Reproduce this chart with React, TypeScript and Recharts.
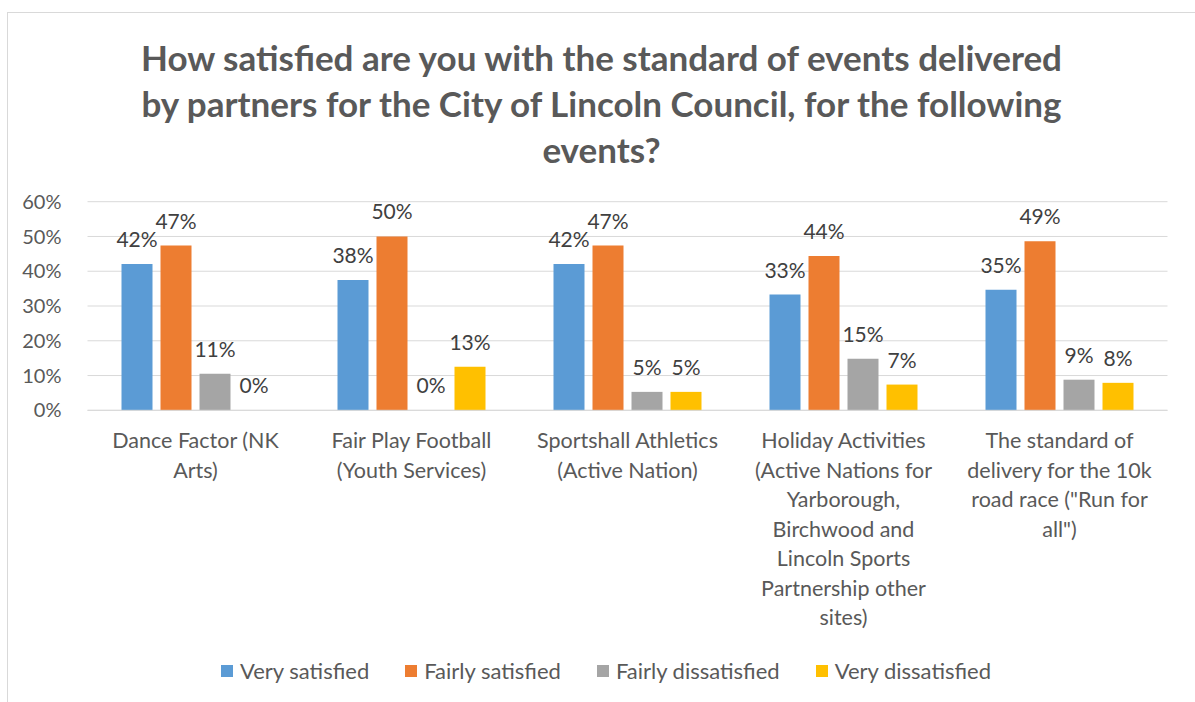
import { BarChart, Bar, XAxis, YAxis, CartesianGrid, LabelList } from 'recharts';

const categories = [
  'Dance Factor (NK Arts)',
  'Fair Play Football (Youth Services)',
  'Sportshall Athletics (Active Nation)',
  'Holiday Activities (Active Nations for Yarborough, Birchwood and Lincoln Sports Partnership other sites)',
  'The standard of delivery for the 10k road race ("Run for all")',
];

// wrapped lines of each category label, as in the original
const tickLines = [
  ['Dance Factor (NK', 'Arts)'],
  ['Fair Play Football', '(Youth Services)'],
  ['Sportshall Athletics', '(Active Nation)'],
  ['Holiday Activities', '(Active Nations for', 'Yarborough,', 'Birchwood and', 'Lincoln Sports', 'Partnership other', 'sites)'],
  ['The standard of', 'delivery for the 10k', 'road race ("Run for', 'all")'],
];

const verySatisfied = [0.421, 0.375, 0.421, 0.333, 0.347];
const fairlySatisfied = [0.474, 0.5, 0.474, 0.444, 0.486];
const fairlyDissatisfied = [0.105, 0, 0.053, 0.148, 0.088];
const veryDissatisfied = [0, 0.125, 0.053, 0.074, 0.079];

const yTicks = [0, 0.1, 0.2, 0.3, 0.4, 0.5, 0.6];

const titleLines = [
  'How satisfied are you with the standard of events delivered',
  'by partners for the City of Lincoln Council, for the following',
  'events?',
];

const series = [
  { key: 'verySatisfied', name: 'Very satisfied', color: '#5b9bd5' },
  { key: 'fairlySatisfied', name: 'Fairly satisfied', color: '#ed7d31' },
  { key: 'fairlyDissatisfied', name: 'Fairly dissatisfied', color: '#a5a5a5' },
  { key: 'veryDissatisfied', name: 'Very dissatisfied', color: '#ffc000' },
];

const data = categories.map((name, i) => ({
  name,
  verySatisfied: verySatisfied[i],
  fairlySatisfied: fairlySatisfied[i],
  fairlyDissatisfied: fairlyDissatisfied[i],
  veryDissatisfied: veryDissatisfied[i],
}));

const FONT = 'Lato, "Open Sans", sans-serif';

const pct = (v: any) => `${Math.round(Number(v) * 100)}%`;

const CategoryTick = ({ x, y, payload }: any) => {
  const i = categories.indexOf(payload.value);
  const lines = tickLines[i] || [payload.value];
  return (
    <text x={x} y={y} textAnchor="middle" fill="#595959" fontSize={21.5} fontFamily={FONT}>
      {lines.map((line, j) => (
        <tspan key={j} x={x} dy={j === 0 ? 30 : 29.5}>
          {line}
        </tspan>
      ))}
    </text>
  );
};

// value label above each bar, drawn for zero values too
const ValueLabel = (props: any) => {
  const { x, y, width, height, value } = props;
  if (value === undefined || value === null) return null;
  const top = Math.min(Number(y), Number(y) + Number(height || 0));
  return (
    <text
      x={Number(x) + Number(width) / 2}
      y={top - 17}
      textAnchor="middle"
      fill="#404040"
      fontSize={21}
      fontFamily={FONT}
    >
      {pct(value)}
    </text>
  );
};

export default function App() {
  return (
    <div
      style={{
        position: 'absolute',
        left: 0,
        top: 0,
        width: 1195,
        height: 702,
        overflow: 'hidden',
        background: '#fff',
        fontFamily: FONT,
      }}
    >
      {/* chart area border */}
      <div
        style={{
          position: 'absolute',
          left: 7,
          top: 12,
          width: 1200,
          height: 700,
          borderLeft: '1px solid #d9d9d9',
          borderTop: '1px solid #d9d9d9',
        }}
      />

      <div
        style={{
          position: 'absolute',
          left: 0,
          top: 34,
          width: 1203,
          textAlign: 'center',
          color: '#595959',
          fontWeight: 700,
          fontSize: 35,
          lineHeight: '46px',
        }}
      >
        {titleLines.map((l, i) => (
          <div key={i}>{l}</div>
        ))}
      </div>

      <div style={{ position: 'absolute', left: 0, top: 0 }}>
        <BarChart
          width={1195}
          height={702}
          data={data}
          margin={{ top: 201.7, right: 27.5, bottom: 41.7, left: 0 }}
          barCategoryGap={34}
          barGap={8}
        >
          <CartesianGrid vertical={false} stroke="#d9d9d9" strokeWidth={1} />
          <XAxis
            dataKey="name"
            height={250}
            interval={0}
            tickLine={false}
            axisLine={{ stroke: '#d9d9d9' }}
            tick={<CategoryTick />}
          />
          <YAxis
            width={87.5}
            domain={[0, 0.6]}
            ticks={yTicks}
            tickFormatter={pct}
            axisLine={false}
            tickLine={false}
            tickSize={0}
            tickMargin={26}
            tick={{ fill: '#595959', fontSize: 20, fontFamily: FONT }}
          />
          {series.map((s) => (
            <Bar
              key={s.key}
              dataKey={s.key}
              name={s.name}
              fill={s.color}
              minPointSize={0.01}
              isAnimationActive={false}
            >
              <LabelList dataKey={s.key} content={<ValueLabel />} />
            </Bar>
          ))}
        </BarChart>
      </div>

      <div
        style={{
          position: 'absolute',
          left: 0,
          top: 657,
          width: 1212,
          display: 'flex',
          justifyContent: 'center',
          gap: 36,
          color: '#595959',
          fontSize: 22,
          lineHeight: '28px',
        }}
      >
        {series.map((s) => (
          <div key={s.key} style={{ display: 'flex', alignItems: 'center' }}>
            <span style={{ width: 12, height: 12, background: s.color, marginRight: 7, display: 'inline-block' }} />
            <span>{s.name}</span>
          </div>
        ))}
      </div>
    </div>
  );
}
